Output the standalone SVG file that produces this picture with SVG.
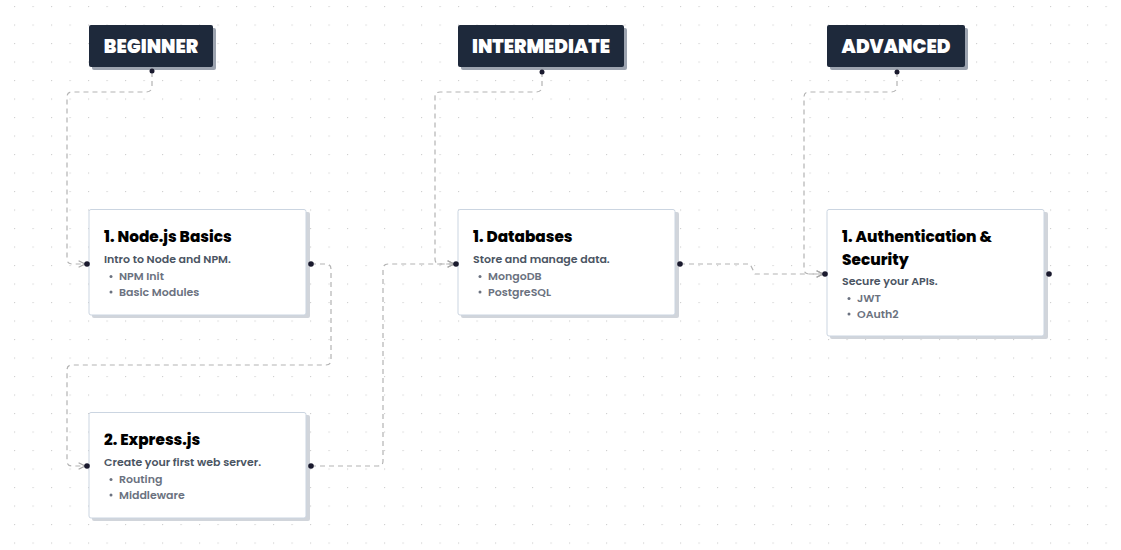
<svg xmlns="http://www.w3.org/2000/svg" width="1121" height="550" viewBox="0 0 1121 550">
<defs>
<pattern id="grid" x="14" y="6" width="18.5" height="18.5" patternUnits="userSpaceOnUse">
<circle cx="0.5" cy="0.5" r="0.7" fill="#cfcfcf"/>
</pattern>
<marker id="arr" viewBox="0 0 10 10" refX="9" refY="5" markerWidth="8" markerHeight="8" markerUnits="userSpaceOnUse" orient="auto">
<path d="M1,1 L9,5 L1,9" fill="none" stroke="#a8a8a8" stroke-width="1.5"/>
</marker>
<style>
.edge{fill:none;stroke:#b3b3b3;stroke-width:1.2;stroke-dasharray:5 4}
.hdr{fill:#1e293b}
.hdrsh{fill:#9ca3af}
.hdrt{font-family:Poppins,Inter,"Open Sans",sans-serif;font-weight:900;font-size:18.5px;fill:#ffffff;text-anchor:middle}
.card{fill:#ffffff;stroke:#cbd5e1;stroke-width:1}
.cardsh{fill:#d1d5db}
.title{font-family:Poppins,Inter,"Open Sans",sans-serif;font-weight:800;font-size:15.3px;fill:#000000}
.desc{font-family:Poppins,Inter,"Open Sans",sans-serif;font-weight:600;font-size:11px;fill:#4b5563}
.item{font-family:Poppins,Inter,"Open Sans",sans-serif;font-weight:600;font-size:11px;fill:#6b7280}
.bul{fill:#6b7280}
.h{fill:#1a1a2e}
</style>
</defs>
<rect width="1121" height="550" fill="#ffffff"/>
<rect width="1121" height="550" fill="url(#grid)"/>

<g id="connectors">
<path class="edge" d="M152,72 V86 Q152,92 146,92 H72 Q67,92 67,97 V259 Q67,264 72,264 H85" marker-end="url(#arr)"/>
<path class="edge" d="M311,264 H326 Q331,264 331,269 V360 Q331,365 326,365 H72 Q67,365 67,370 V461 Q67,466 72,466 H85" marker-end="url(#arr)"/>
<path class="edge" d="M311,466 H378 Q383,466 383,461 V269 Q383,264 388,264 H454" marker-end="url(#arr)"/>
<path class="edge" d="M542,72 V86 Q542,92 536,92 H440 Q435,92 435,97 V259 Q435,264 440,264 H454" marker-end="url(#arr)"/>
<path class="edge" d="M680,264 H750 L755,274 H823" marker-end="url(#arr)"/>
<path class="edge" d="M897,72 V86 Q897,92 891,92 H809 Q804,92 804,97 V269 Q804,274 809,274 H823" marker-end="url(#arr)"/>
</g>

<g id="beginner">
<rect class="hdrsh" x="92" y="28" width="124" height="42" rx="2"/>
<rect class="hdr" x="89" y="25" width="124" height="42" rx="2"/>
<text class="hdrt" x="151" y="53">BEGINNER</text>
<circle class="h" cx="152" cy="71" r="2.5"/>
</g>

<g id="intermediate">
<rect class="hdrsh" x="461" y="28" width="166" height="42" rx="2"/>
<rect class="hdr" x="458" y="25" width="166" height="42" rx="2"/>
<text class="hdrt" x="541" y="53">INTERMEDIATE</text>
<circle class="h" cx="542" cy="72" r="2.5"/>
</g>

<g id="advanced">
<rect class="hdrsh" x="830" y="28" width="138" height="42" rx="2"/>
<rect class="hdr" x="827" y="25" width="138" height="42" rx="2"/>
<text class="hdrt" x="896" y="53">ADVANCED</text>
<circle class="h" cx="897" cy="72" r="2.5"/>
</g>

<g id="nodejs-basics">
<rect class="cardsh" x="92" y="212" width="218" height="106" rx="2"/>
<rect class="card" x="89" y="209.5" width="217" height="105.5" rx="2"/>
<text class="title" x="104" y="241.5">1. Node.js Basics</text>
<text class="desc" x="104" y="262.5">Intro to Node and NPM.</text>
<circle class="bul" cx="111" cy="276.5" r="1.5"/>
<text class="item" x="119" y="280">NPM Init</text>
<circle class="bul" cx="111" cy="292" r="1.5"/>
<text class="item" x="119" y="295.5">Basic Modules</text>
<circle class="h" cx="87" cy="264" r="2.8"/>
<circle class="h" cx="311" cy="264" r="2.8"/>
</g>

<g id="expressjs">
<rect class="cardsh" x="92" y="415" width="218" height="106" rx="2"/>
<rect class="card" x="89" y="412.5" width="217" height="105.5" rx="2"/>
<text class="title" x="104" y="444.5">2. Express.js</text>
<text class="desc" x="104" y="465.5">Create your first web server.</text>
<circle class="bul" cx="111" cy="479.5" r="1.5"/>
<text class="item" x="119" y="483">Routing</text>
<circle class="bul" cx="111" cy="495" r="1.5"/>
<text class="item" x="119" y="498.5">Middleware</text>
<circle class="h" cx="87" cy="466" r="2.8"/>
<circle class="h" cx="311" cy="466" r="2.8"/>
</g>

<g id="databases">
<rect class="cardsh" x="461" y="212" width="218" height="106" rx="2"/>
<rect class="card" x="458" y="209.5" width="217" height="105.5" rx="2"/>
<text class="title" x="473" y="241.5">1. Databases</text>
<text class="desc" x="473" y="262.5">Store and manage data.</text>
<circle class="bul" cx="480" cy="276.5" r="1.5"/>
<text class="item" x="488" y="280">MongoDB</text>
<circle class="bul" cx="480" cy="292" r="1.5"/>
<text class="item" x="488" y="295.5">PostgreSQL</text>
<circle class="h" cx="456" cy="264" r="2.8"/>
<circle class="h" cx="680" cy="264" r="2.8"/>
</g>

<g id="authentication">
<rect class="cardsh" x="830" y="212" width="218" height="127" rx="2"/>
<rect class="card" x="827" y="209.5" width="217" height="126.5" rx="2"/>
<text class="title" x="842" y="241.5">1. Authentication &amp;</text>
<text class="title" x="842" y="264.5">Security</text>
<text class="desc" x="842" y="285">Secure your APIs.</text>
<circle class="bul" cx="849" cy="298.5" r="1.5"/>
<text class="item" x="857" y="302">JWT</text>
<circle class="bul" cx="849" cy="314" r="1.5"/>
<text class="item" x="857" y="317.5">OAuth2</text>
<circle class="h" cx="825" cy="274" r="2.8"/>
<circle class="h" cx="1049" cy="274" r="2.8"/>
</g>
</svg>
